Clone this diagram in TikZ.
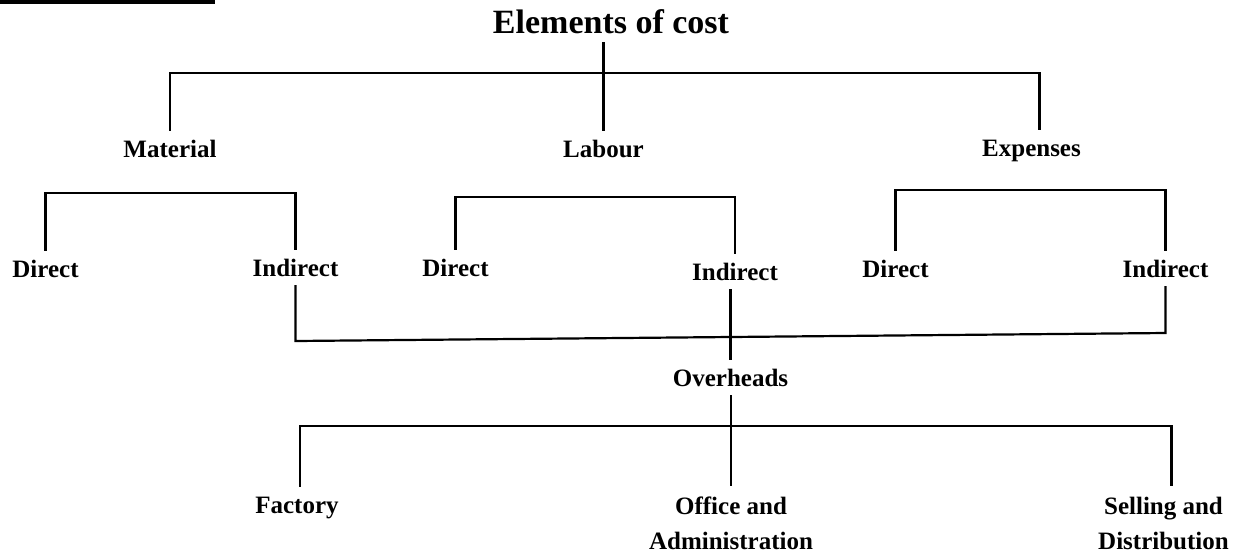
\documentclass[tikz,border=0pt]{standalone}
\usepackage{fontspec}
\setmainfont{Liberation Serif}
\usepackage{tikz}
\begin{document}
\begin{tikzpicture}[x=0.5pt,y=-0.5pt,line width=1.1pt,
  item/.style={font=\fontsize{12.5}{15}\selectfont\bfseries,anchor=base,inner xsep=0pt,inner ysep=3.5pt,text height=9pt,text depth=0.5pt},
  itemtwo/.style={font=\fontsize{12.5}{17.5}\selectfont\bfseries,anchor=north,align=center,inner xsep=0pt,inner ysep=5pt}]
\useasboundingbox (0,0) rectangle (1238,553);
\fill (0,0) rectangle (215,4);
\node[item,font=\fontsize{17}{20}\selectfont\bfseries] (cost) at (611,33) {Elements of cost};
\node[item] (material) at (170,157) {Material};
\node[item] (labour) at (603.5,157) {Labour};
\node[item] (expenses) at (1031.5,156) {Expenses};
\node[item] (mdir) at (45.5,277) {Direct};
\node[item] (mind) at (295.5,276) {Indirect};
\node[item] (ldir) at (455.5,276) {Direct};
\node[item] (lind) at (735,280) {Indirect};
\node[item] (edir) at (895.5,277) {Direct};
\node[item] (eind) at (1165.5,277) {Indirect};
\node[item] (over) at (730.5,386) {Overheads};
\node[item] (factory) at (297,513) {Factory};
\node[itemtwo] (office) at (731,486) {Office and\\Administration};
\node[itemtwo] (selling) at (1163.5,486) {Selling and\\Distribution};
\coordinate (topbar) at (603,73);
\coordinate (expup) at ([xshift=4pt]expenses.north);
\coordinate (mbar) at (0,193);
\coordinate (lbar) at (0,197);
\coordinate (ebar) at (0,190);
\coordinate (jl) at (293,341);
\coordinate (jr) at (1163,333);
\coordinate (obar) at (0,426);
\coordinate (factup) at ([xshift=1.5pt]factory.north);
\coordinate (sellup) at ([xshift=4pt]selling.north);
\draw (cost.south -| labour.north) -- (labour.north);
\draw (material.north) |- (expup |- topbar) -- (expup);
\draw (mdir.north) |- (mind.north |- mbar) -- (mind.north);
\draw (ldir.north) |- (lind.north |- lbar) -- (lind.north);
\draw (edir.north) |- (eind.north |- ebar) -- (eind.north);
\draw (mind.south) -- (mind.south |- jl) -- (jr -| eind.south) -- (eind.south);
\draw (lind.south -| over.north) -- (over.north);
\draw (over.south -| office.north) -- (office.north);
\draw (factup) |- (sellup |- obar) -- (sellup);
\end{tikzpicture}
\end{document}
